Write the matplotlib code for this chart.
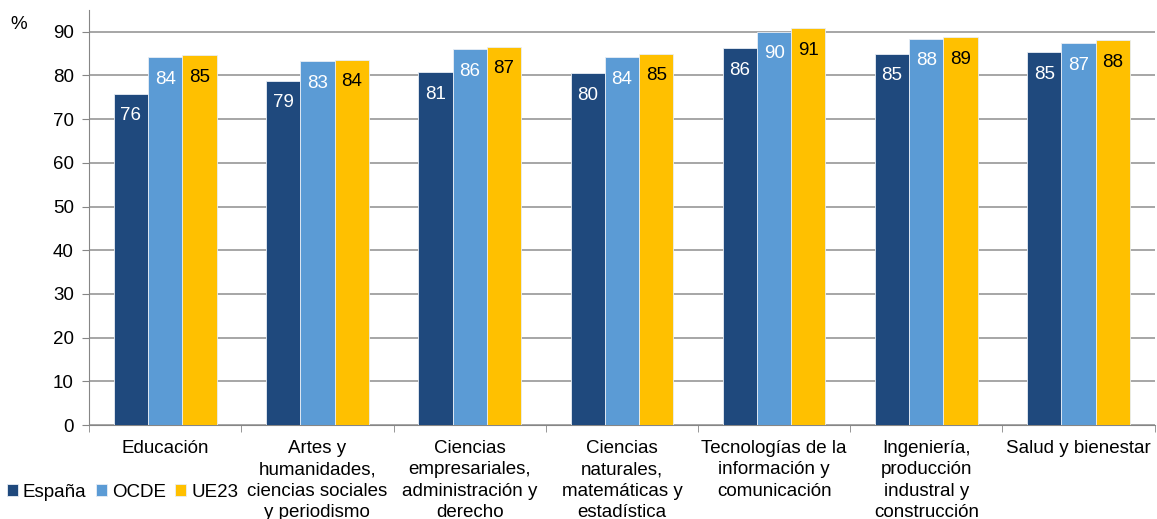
import matplotlib.pyplot as plt
import numpy as np

plt.rcParams['font.family'] = ['Liberation Sans', 'DejaVu Sans']

# datos
categorias = [
    "Educación",
    "Artes y\nhumanidades,\nciencias sociales\ny periodismo",
    "Ciencias\nempresariales,\nadministración y\nderecho",
    "Ciencias\nnaturales,\nmatemáticas y\nestadística",
    "Tecnologías de la\ninformación y\ncomunicación",
    "Ingeniería,\nproducción\nindustral y\nconstrucción",
    "Salud y bienestar",
]
espana = [75.8, 78.8, 80.8, 80.5, 86.3, 85.0, 85.3]
ocde = [84.2, 83.2, 86.0, 84.2, 90.0, 88.4, 87.4]
ue23 = [84.7, 83.6, 86.6, 85.0, 90.8, 88.8, 88.0]

series = [("España", espana, "#1F497D", "white"),
          ("OCDE", ocde, "#5B9BD5", "white"),
          ("UE23", ue23, "#FFC000", "black")]

fs = 13.5

fig = plt.figure(figsize=(11.57, 5.19), dpi=100)
ax = fig.add_axes([0.077, 0.181, 0.921, 0.8])

x = np.arange(len(categorias))
w = 0.225
for i, (nombre, vals, color, tcolor) in enumerate(series):
    pos = x + (i - 1) * w
    bars = ax.bar(pos, vals, width=w, color=color, edgecolor="#E8EEF5",
                  linewidth=0.6, label=nombre, zorder=3)
    for b, v in zip(bars, vals):
        ax.annotate(f"{v:.0f}", (b.get_x() + b.get_width() / 2, v),
                    xytext=(0, -16), textcoords="offset points",
                    ha="center", va="center", color=tcolor, fontsize=fs,
                    zorder=4)

ax.set_xlim(-0.5, len(categorias) - 0.5)
ax.set_ylim(0, 95)
ax.set_yticks(range(0, 91, 10))
ax.tick_params(axis="y", labelsize=fs, length=5, color="#868686", pad=6)
ax.yaxis.grid(True, color="#A6A6A6", linewidth=1.4, zorder=0)

ax.set_xticks(x)
ax.set_xticklabels(categorias, fontsize=fs, linespacing=1.32, va="top")
ax.tick_params(axis="x", length=0, pad=11)
ax.set_xticks(np.arange(-0.5, len(categorias), 1), minor=True)
ax.tick_params(axis="x", which="minor", length=5, color="#868686")

for s in ["top", "right"]:
    ax.spines[s].set_visible(False)
ax.spines["left"].set_color("#868686")
ax.spines["bottom"].set_color("#868686")

fig.text(0.009, 0.945, "%", fontsize=fs)

leg = ax.legend(loc="lower left", ncol=3, frameon=False, fontsize=fs,
                handlelength=0.6, handleheight=0.6, handletextpad=0.25,
                columnspacing=0.5, borderaxespad=0, borderpad=0.0)
leg.set_bbox_to_anchor((0.006, 0.035), transform=fig.transFigure)

fig.savefig("out.png", dpi=100)
